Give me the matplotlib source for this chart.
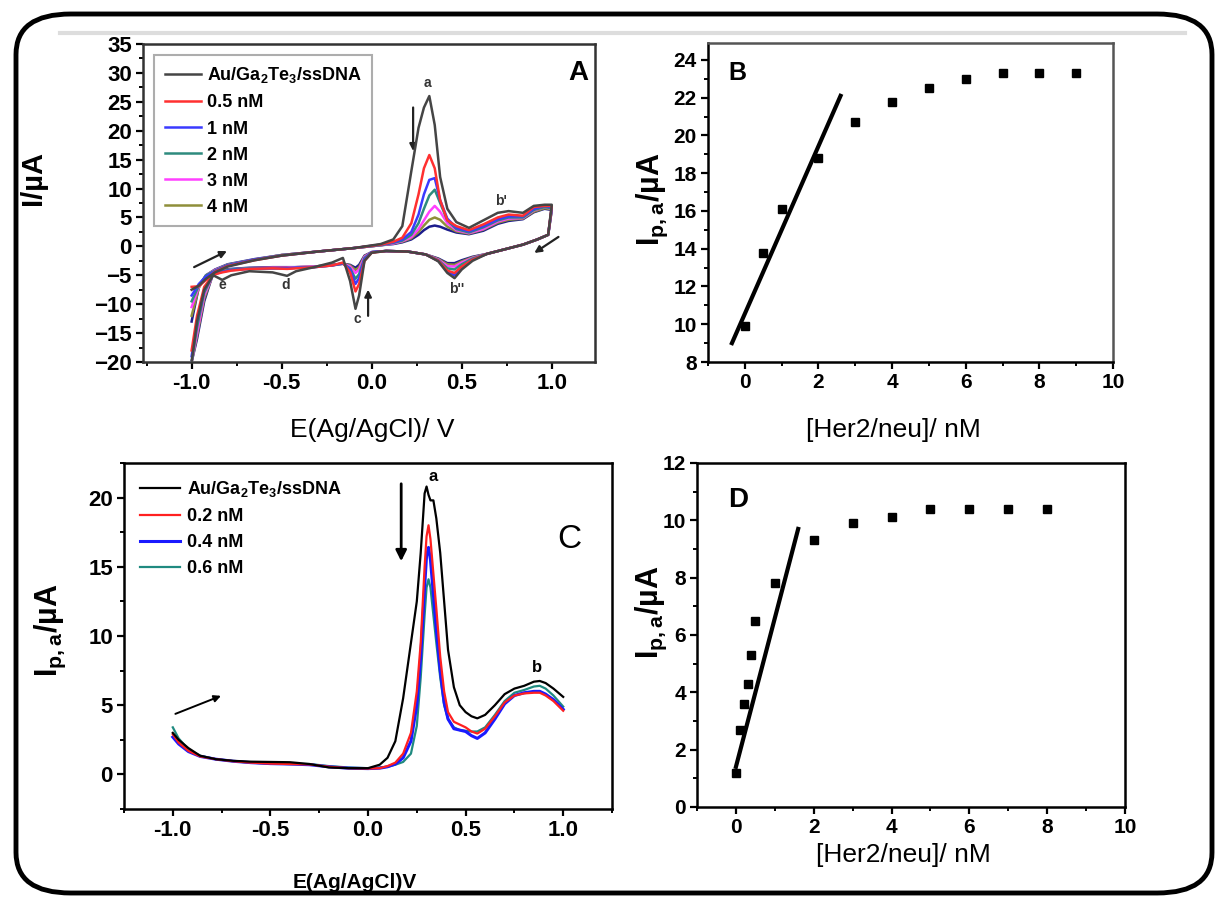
import numpy as np
import matplotlib.pyplot as plt
from matplotlib.patches import FancyBboxPatch
from matplotlib.lines import Line2D
from matplotlib.ticker import MultipleLocator

plt.rcParams['font.family'] = ['Liberation Sans', 'DejaVu Sans']
plt.rcParams['mathtext.fontset'] = 'custom'
plt.rcParams['mathtext.rm'] = 'Liberation Sans'
plt.rcParams['mathtext.bf'] = 'Liberation Sans:bold'
plt.rcParams['mathtext.it'] = 'Liberation Sans:italic'

W, H = 1217, 901

# ---------------- panel A: cyclic voltammograms ----------------
a_labels = ['Au/Ga$_\\mathbf{2}$Te$_\\mathbf{3}$/ssDNA', '0.5 nM', '1 nM', '2 nM', '3 nM', '4 nM', None]
a_colors = ['#454545', '#ff3030', '#3a3aff', '#2e8b7e', '#ff40ff', '#8f8f3a', '#1c1c8c']

# anodic sweep (-1 -> +1)
a_E_up = [-1.0, -0.96, -0.92, -0.87, -0.8, -0.65, -0.5, -0.3, -0.1, 0.05, 0.12, 0.17, 0.22, 0.26,
          0.29, 0.32, 0.35, 0.38, 0.42, 0.47, 0.54, 0.62, 0.7, 0.76, 0.84, 0.9, 0.96, 1.0]
a_I_up = [
    [-7.5, -6.8, -5.6, -4.5, -3.5, -2.4, -1.6, -0.9, -0.3, 0.4, 1.2, 3.5, 13, 20.5, 24, 26, 21, 12, 6.5, 4.2, 3.2, 4.5, 5.8, 6.1, 5.8, 7.0, 7.2, 7.2],
    [-7.0, -6.9, -5.8, -4.4, -3.4, -2.4, -1.6, -0.9, -0.3, 0.3, 0.8, 1.5, 4.0, 9.0, 13.5, 15.8, 13.5, 8.0, 4.5, 3.5, 2.8, 3.8, 5.0, 5.5, 5.3, 6.8, 7.0, 7.0],
    [-8.5, -6.5, -5.2, -4.3, -3.3, -2.3, -1.6, -0.9, -0.3, 0.3, 0.7, 1.2, 2.5, 5.5, 9.0, 11.5, 11.8, 8.0, 4.8, 3.2, 2.6, 3.5, 4.7, 5.2, 5.2, 6.5, 7.0, 6.8],
    [-9.5, -6.8, -5.0, -4.2, -3.2, -2.3, -1.5, -0.9, -0.3, 0.2, 0.6, 1.0, 2.0, 4.0, 6.5, 8.8, 9.8, 7.5, 4.5, 3.0, 2.4, 3.3, 4.5, 5.0, 5.0, 6.3, 6.8, 6.6],
    [-10.5, -7.0, -5.0, -4.1, -3.2, -2.3, -1.5, -0.9, -0.3, 0.2, 0.5, 0.9, 1.6, 3.0, 4.5, 6.0, 7.0, 6.0, 4.0, 2.8, 2.3, 3.0, 4.3, 4.8, 4.9, 6.2, 6.8, 6.5],
    [-12, -7.2, -5.0, -4.1, -3.2, -2.3, -1.5, -0.9, -0.3, 0.2, 0.5, 0.8, 1.4, 2.5, 3.6, 4.6, 5.0, 4.6, 3.4, 2.6, 2.2, 2.9, 4.1, 4.6, 4.8, 6.0, 6.6, 6.4],
    [-13, -7.0, -5.0, -4.0, -3.1, -2.2, -1.5, -0.9, -0.3, 0.2, 0.4, 0.7, 1.2, 2.0, 2.8, 3.4, 3.6, 3.4, 2.9, 2.4, 2.1, 2.7, 3.9, 4.4, 4.7, 5.9, 6.5, 6.3],
]
# cathodic sweep (+1 -> -1)
a_E_dn = [1.0, 0.98, 0.92, 0.84, 0.74, 0.64, 0.56, 0.5, 0.46, 0.42, 0.37, 0.3, 0.2, 0.08, 0.0, -0.04,
          -0.07, -0.09, -0.12, -0.16, -0.22, -0.32, -0.42, -0.47, -0.55, -0.68, -0.78, -0.83, -0.88,
          -0.93, -0.97, -1.0]
a_I_dn = [
    [7.2, 2.0, 1.2, 0.3, -0.5, -1.3, -2.5, -4.0, -5.5, -4.6, -2.6, -1.4, -0.9, -0.8, -1.1, -2.5, -8.5, -10.8, -6.0, -2.0, -2.8, -3.6, -4.3, -5.1, -4.5, -4.3, -5.0, -5.8, -5.0, -7.5, -13, -20],
    [7.0, 2.0, 1.2, 0.3, -0.5, -1.3, -2.3, -3.5, -4.6, -4.2, -2.5, -1.4, -0.9, -0.8, -1.1, -2.5, -6.5, -7.8, -4.5, -2.8, -3.3, -3.6, -3.8, -3.9, -3.8, -3.9, -4.2, -4.5, -4.9, -7.0, -12, -18],
    [6.8, 2.0, 1.2, 0.3, -0.5, -1.3, -2.3, -3.6, -5.0, -4.3, -2.5, -1.4, -0.9, -0.8, -1.0, -2.2, -5.5, -6.5, -4.0, -2.9, -3.3, -3.6, -3.7, -3.8, -3.8, -3.9, -4.1, -4.4, -4.9, -7.5, -13, -19],
    [6.6, 2.0, 1.2, 0.3, -0.5, -1.3, -2.1, -3.1, -4.0, -3.8, -2.4, -1.4, -0.9, -0.8, -1.0, -2.0, -4.8, -5.6, -3.8, -3.0, -3.3, -3.6, -3.7, -3.8, -3.8, -3.8, -4.0, -4.3, -4.8, -8.0, -14, -20],
    [6.5, 2.0, 1.2, 0.3, -0.5, -1.3, -2.0, -2.8, -3.5, -3.4, -2.3, -1.4, -0.9, -0.8, -1.0, -1.8, -4.0, -4.6, -3.5, -3.0, -3.3, -3.5, -3.6, -3.7, -3.7, -3.8, -4.0, -4.3, -4.8, -8.5, -15, -20],
    [6.4, 2.0, 1.2, 0.3, -0.5, -1.3, -1.9, -2.6, -3.2, -3.1, -2.2, -1.4, -0.9, -0.8, -1.0, -1.7, -3.6, -4.1, -3.3, -3.0, -3.2, -3.5, -3.6, -3.7, -3.7, -3.8, -4.0, -4.2, -4.7, -9.0, -15.5, -20],
    [6.3, 2.0, 1.2, 0.3, -0.5, -1.3, -1.8, -2.4, -2.9, -2.9, -2.1, -1.4, -0.9, -0.8, -1.0, -1.6, -3.2, -3.7, -3.2, -3.0, -3.2, -3.5, -3.6, -3.6, -3.6, -3.7, -3.9, -4.1, -4.6, -9.5, -16, -20],
]

# ---------------- panel B: calibration ----------------
b_conc = [0, 0.5, 1, 2, 3, 4, 5, 6, 7, 8, 9]
b_ipa = [9.9, 13.8, 16.1, 18.8, 20.7, 21.8, 22.5, 23.0, 23.3, 23.3, 23.3]
b_fit_x = [-0.35, 2.6]
b_fit_y = [9.0, 22.1]

# ---------------- panel C: DPV ----------------
c_labels = ['Au/Ga$_\\mathbf{2}$Te$_\\mathbf{3}$/ssDNA', '0.2 nM', '0.4 nM', '0.6 nM']
c_colors = ['#000000', '#ff2020', '#1a1aff', '#1f8a80']
c_widths = [1.6, 1.6, 2.2, 1.6]
c_E = [-1.0, -0.97, -0.92, -0.86, -0.78, -0.69, -0.6, -0.5, -0.4, -0.3, -0.2, -0.1, 0.0, 0.06, 0.1,
       0.14, 0.18, 0.22, 0.25, 0.27, 0.29, 0.3, 0.31, 0.32, 0.335, 0.35, 0.37, 0.39, 0.41, 0.44,
       0.47, 0.5, 0.53, 0.56, 0.6, 0.65, 0.7, 0.75, 0.8, 0.85, 0.88, 0.91, 0.95, 1.0]
c_I = [
    [3.0, 2.5, 1.9, 1.35, 1.1, 0.98, 0.92, 0.9, 0.88, 0.75, 0.5, 0.45, 0.45, 0.7, 1.2, 2.4, 5.5, 9.5,
     12.5, 16, 20.3, 20.8, 20.2, 19.8, 19.8, 18.5, 16.0, 12.5, 9.0, 6.3, 5.0, 4.5, 4.2, 4.05, 4.3,
     5.0, 5.8, 6.2, 6.4, 6.7, 6.75, 6.6, 6.2, 5.6],
    [2.9, 2.3, 1.7, 1.3, 1.1, 0.95, 0.85, 0.78, 0.75, 0.72, 0.55, 0.45, 0.42, 0.45, 0.6, 0.85, 1.5,
     3.0, 6.0, 9.5, 15, 17.2, 18.0, 17.0, 14.5, 12.0, 8.5, 6.0, 4.5, 3.8, 3.6, 3.4, 3.1, 2.95, 3.3,
     4.2, 5.2, 5.7, 5.85, 5.9, 5.9, 5.7, 5.3, 4.6],
    [2.7, 2.2, 1.65, 1.3, 1.1, 0.95, 0.85, 0.78, 0.75, 0.7, 0.55, 0.45, 0.42, 0.45, 0.55, 0.75, 1.2,
     2.4, 5.0, 8.5, 13.5, 15.8, 16.4, 15.5, 13.0, 10.5, 7.5, 5.2, 4.0, 3.3, 3.2, 3.1, 2.8, 2.6, 3.0,
     4.0, 5.1, 5.7, 5.9, 6.0, 6.0, 5.8, 5.4, 4.7],
    [3.4, 2.6, 1.8, 1.35, 1.1, 0.95, 0.85, 0.78, 0.75, 0.75, 0.6, 0.5, 0.45, 0.5, 0.55, 0.7, 0.9,
     1.5, 3.5, 7.0, 11.5, 13.5, 14.1, 13.5, 11.5, 9.5, 7.0, 5.0, 4.0, 3.4, 3.2, 3.15, 3.1, 3.1, 3.4,
     4.3, 5.3, 5.9, 6.1, 6.35, 6.4, 6.2, 5.7, 4.9],
]

# ---------------- panel D: calibration ----------------
d_conc = [0, 0.1, 0.2, 0.3, 0.4, 0.5, 1, 2, 3, 4, 5, 6, 7, 8]
d_ipa = [1.2, 2.7, 3.6, 4.3, 5.3, 6.5, 7.8, 9.3, 9.9, 10.1, 10.4, 10.4, 10.4, 10.4]
d_fit_x = [0.0, 1.6]
d_fit_y = [1.4, 9.7]


def box(l, t, r, b):
    return [l / W, 1 - b / H, (r - l) / W, (b - t) / H]


def ftext(x, y, s, **kw):
    fig.text(x / W, 1 - y / H, s, ha='center', va='center', **kw)


def style(ax, size, weight='bold', spine_col='black'):
    for sp in ax.spines.values():
        sp.set_linewidth(1.8)
        sp.set_color(spine_col)
    ax.tick_params(which='major', direction='out', length=5, width=1.6, labelsize=size, pad=3)
    ax.tick_params(which='minor', direction='out', length=3, width=1.4)
    for lab in ax.get_xticklabels() + ax.get_yticklabels():
        lab.set_fontweight(weight)


fig = plt.figure(figsize=(W / 100, H / 100), dpi=100)

# outer rounded frame and faint line
frame = FancyBboxPatch((16 / W, 1 - 893 / H), (1212 - 16) / W, (893 - 14) / H,
                       boxstyle='round,pad=0,rounding_size=0.045', transform=fig.transFigure,
                       fill=False, lw=3.5, ec='black', zorder=0)
fig.patches.append(frame)
fig.add_artist(Line2D([60 / W, 1185 / W], [1 - 33 / H, 1 - 33 / H], color='#dddddd', lw=3,
                      transform=fig.transFigure))

# ---- A ----
axA = fig.add_axes(box(143, 44, 595, 362))
for k in range(len(a_I_up)):
    E = a_E_up + a_E_dn
    I = a_I_up[k] + a_I_dn[k]
    axA.plot(E, I, color=a_colors[k], lw=1.8, label=a_labels[k] if a_labels[k] else '_nolegend_',
             zorder=10 - k)
axA.set_xlim(-1.27, 1.24)
axA.set_ylim(-20, 35)
axA.xaxis.set_major_locator(MultipleLocator(0.5))
axA.xaxis.set_minor_locator(MultipleLocator(0.25))
axA.yaxis.set_major_locator(MultipleLocator(5))
axA.yaxis.set_minor_locator(MultipleLocator(2.5))
axA.set_xticks([-1.0, -0.5, 0.0, 0.5, 1.0])
axA.set_xticklabels(['-1.0', '-0.5', '0.0', '0.5', '1.0'])
style(axA, 16, spine_col='#333333')
legA = axA.legend(loc='upper left', bbox_to_anchor=(0.005, 0.995), fancybox=False,
                  edgecolor='#999999', prop={'weight': 'bold', 'size': 13}, handlelength=2.0,
                  labelspacing=0.5, borderpad=0.6, handletextpad=0.3)
legA.get_frame().set_linewidth(1.5)
for t, s, x, y in [('a', 10, 0.31, 28.3), ("b'", 10, 0.72, 7.8), ("b''", 10, 0.47, -7.3),
                   ('c', 10, -0.08, -12.6), ('d', 10, -0.48, -6.6), ('e', 10, -0.83, -6.6)]:
    axA.text(x, y, t, fontsize=s, fontweight='bold', color='#333333', ha='center', va='center')
axA.text(1.15, 30, 'A', fontsize=20, fontweight='bold', ha='center', va='center')
arr = dict(arrowstyle='-|>', color='#222222', lw=1.6, mutation_scale=10)
axA.annotate('', xy=(0.23, 16), xytext=(0.23, 24.5), arrowprops=arr)
axA.annotate('', xy=(-0.02, -7), xytext=(-0.02, -12.5), arrowprops=arr)
axA.annotate('', xy=(-0.79, -0.6), xytext=(-1.0, -3.8), arrowprops=arr)
axA.annotate('', xy=(0.89, -1.4), xytext=(1.05, 1.9), arrowprops=arr)
ftext(33, 178, 'I/µA', fontsize=21, fontweight='bold', rotation=90)
ftext(372, 430, 'E(Ag/AgCl)/ V', fontsize=19)

# ---- B ----
axB = fig.add_axes(box(708, 43, 1113, 362))
axB.plot(b_fit_x, b_fit_y, color='black', lw=3)
axB.plot(b_conc, b_ipa, 's', color='black', ms=5.5)
axB.set_xlim(-1, 10)
axB.set_ylim(8, 24.9)
axB.xaxis.set_major_locator(MultipleLocator(2))
axB.xaxis.set_minor_locator(MultipleLocator(1))
axB.yaxis.set_major_locator(MultipleLocator(2))
axB.yaxis.set_minor_locator(MultipleLocator(1))
style(axB, 15)
axB.spines['top'].set_color('#555555')
axB.spines['right'].set_color('#555555')
axB.text(-0.2, 23.3, 'B', fontsize=18, fontweight='bold', ha='center', va='center')
ftext(652, 199, 'I$_\\mathbf{p,a}$/µA', fontsize=22, fontweight='bold', rotation=90)
ftext(893, 430, '[Her2/neu]/ nM', fontsize=19)

# ---- C ----
axC = fig.add_axes(box(124, 463, 612, 809))
for k in range(len(c_I)):
    axC.plot(c_E, c_I[k], color=c_colors[k], lw=c_widths[k], label=c_labels[k], zorder=10 - k)
axC.set_xlim(-1.25, 1.25)
axC.set_ylim(-2.5, 22.5)
axC.set_xticks([-1.0, -0.5, 0.0, 0.5, 1.0])
axC.set_xticklabels(['-1.0', '-0.5', '0.0', '0.5', '1.0'])
axC.xaxis.set_minor_locator(MultipleLocator(0.25))
axC.yaxis.set_major_locator(MultipleLocator(5))
axC.yaxis.set_minor_locator(MultipleLocator(2.5))
style(axC, 16)
axC.legend(loc='upper left', bbox_to_anchor=(0.0, 1.0), frameon=False,
           prop={'weight': 'bold', 'size': 13}, handlelength=2.2, labelspacing=0.5,
           borderpad=0.4, handletextpad=0.4)
axC.text(0.335, 21.5, 'a', fontsize=12, fontweight='bold', ha='center', va='center')
axC.text(0.865, 7.7, 'b', fontsize=12, fontweight='bold', ha='center', va='center')
axC.text(1.03, 17, 'C', fontsize=24, ha='center', va='center')
axC.annotate('', xy=(0.17, 15.2), xytext=(0.17, 21.2),
             arrowprops=dict(arrowstyle='-|>', color='black', lw=2, mutation_scale=16))
axC.annotate('', xy=(-0.74, 5.75), xytext=(-1.0, 4.3),
             arrowprops=dict(arrowstyle='-|>', color='black', lw=1.4, mutation_scale=10))
ftext(50, 630, 'I$_\\mathbf{p,a}$/µA', fontsize=22, fontweight='bold', rotation=90)
ftext(355, 882, 'E(Ag/AgCl)V', fontsize=15, fontweight='bold')

# ---- D ----
axD = fig.add_axes(box(697, 463, 1125, 807))
axD.plot(d_fit_x, d_fit_y, color='black', lw=3)
axD.plot(d_conc, d_ipa, 's', color='black', ms=5.5)
axD.set_xlim(-1, 10)
axD.set_ylim(0, 12)
axD.xaxis.set_major_locator(MultipleLocator(2))
axD.xaxis.set_minor_locator(MultipleLocator(1))
axD.yaxis.set_major_locator(MultipleLocator(2))
axD.yaxis.set_minor_locator(MultipleLocator(1))
style(axD, 15)
axD.text(0.05, 10.7, 'D', fontsize=20, fontweight='bold', ha='center', va='center')
ftext(651, 612, 'I$_\\mathbf{p,a}$/µA', fontsize=22, fontweight='bold', rotation=90)
ftext(903, 855, '[Her2/neu]/ nM', fontsize=19)

fig.savefig('out.png', dpi=100, facecolor='white')
